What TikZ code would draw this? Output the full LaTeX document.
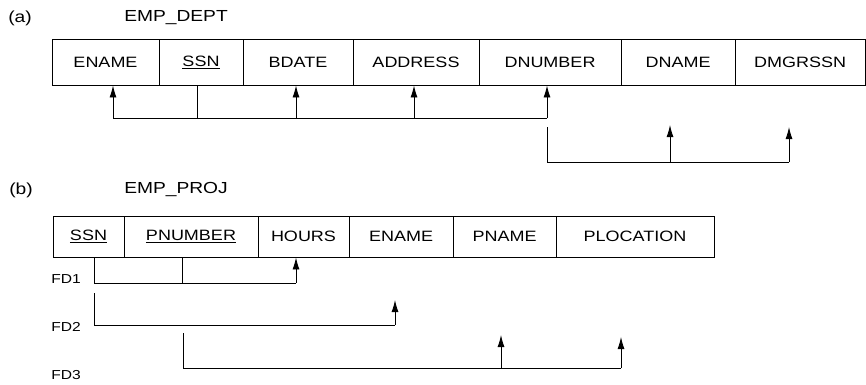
\documentclass[tikz,border=0pt]{standalone}
\usepackage{fontspec}
\setmainfont{Liberation Sans}[FakeStretch=1.2]
\usetikzlibrary{arrows.meta}
\begin{document}
\begin{tikzpicture}[x=1pt,y=-1pt,
  cell/.style={draw, line width=0.9pt, inner sep=0pt, font=\fontsize{15}{18}\selectfont},
  cella/.style={cell, minimum height=46pt},
  cellb/.style={cell, minimum height=41pt},
  fdline/.style={line width=0.9pt},
  fdarrow/.style={line width=0.9pt, -{Latex[length=12pt,width=7pt]}},
  title/.style={font=\fontsize{16}{19}\selectfont, inner sep=0pt},
  fdlabel/.style={font=\fontsize{13}{15}\selectfont, inner sep=0pt}]
\useasboundingbox (0,0) rectangle (866,384);

% (a) EMP_DEPT
\node[title] (la) at (20,18) {(a)};
\node[title] (ta) at (176,18) {EMP\_DEPT};
\node[cella, minimum width=107pt] (aename) at (105.5,62) {ENAME};
\node[cella, minimum width=84pt]  (assn)   at (201,62)   {\underline{SSN}};
\node[cella, minimum width=110pt] (abdate) at (298,62)   {BDATE};
\node[cella, minimum width=126pt] (aaddr)  at (416,62)   {ADDRESS};
\node[cella, minimum width=142pt] (adnum)  at (550,62)   {DNUMBER};
\node[cella, minimum width=114pt] (adname) at (678,62)   {DNAME};
\node[cella, minimum width=130pt] (amgr)   at (800,62)   {DMGRSSN};

\coordinate (a1) at (113,118);
\coordinate (a2) at (197,118);
\coordinate (a3) at (296,118);
\coordinate (a4) at (414,118);
\coordinate (a5) at (547,118);
\draw[fdline] (a1) -- (a5);
\draw[fdline] (a2) -- (a2 |- assn.south);
\draw[fdarrow] (a1) -- (a1 |- aename.south);
\draw[fdarrow] (a3) -- (a3 |- abdate.south);
\draw[fdarrow] (a4) -- (a4 |- aaddr.south);
\draw[fdarrow] (a5) -- (a5 |- adnum.south);

\coordinate (b0) at (547,127);
\coordinate (b1) at (547,162);
\coordinate (b2) at (670,162);
\coordinate (b3) at (789,162);
\coordinate (bt2) at (670,125);
\coordinate (bt3) at (789,127);
\draw[fdline] (b0) -- (b1) -- (b3);
\draw[fdarrow] (b2) -- (bt2);
\draw[fdarrow] (b3) -- (bt3);

% (b) EMP_PROJ
\node[title] (lb) at (21,190) {(b)};
\node[title] (tb) at (176,189) {EMP\_PROJ};
\node[cellb, minimum width=71pt]  (bssn)   at (88.5,236.5) {\underline{SSN}};
\node[cellb, minimum width=134pt] (bpnum)  at (191,236.5)  {\underline{PNUMBER}};
\node[cellb, minimum width=91pt]  (bhours) at (303.5,236.5) {HOURS};
\node[cellb, minimum width=104pt] (bename) at (401,236.5)  {ENAME};
\node[cellb, minimum width=103pt] (bpname) at (504.5,236.5) {PNAME};
\node[cellb, minimum width=158pt] (bploc)  at (635,236.5)  {PLOCATION};

\node[fdlabel] (fd1) at (66,279) {FD1};
\node[fdlabel] (fd2) at (66,327) {FD2};
\node[fdlabel] (fd3) at (66,375) {FD3};

% FD1
\coordinate (c0) at (94,283);
\coordinate (c2) at (182,283);
\coordinate (c3) at (296,283);
\draw[fdline] (c0 |- bssn.south) -- (c0) -- (c3);
\draw[fdline] (c2) -- (c2 |- bpnum.south);
\draw[fdarrow] (c3) -- (c3 |- bhours.south);

% FD2
\coordinate (d0) at (94,293);
\coordinate (d1) at (94,325);
\coordinate (d2) at (395,325);
\coordinate (dt) at (395,300);
\draw[fdline] (d0) -- (d1) -- (d2);
\draw[fdarrow] (d2) -- (dt);

% FD3
\coordinate (e0) at (183,333);
\coordinate (e1) at (183,368);
\coordinate (e2) at (501,368);
\coordinate (e3) at (621,368);
\coordinate (et2) at (501,335);
\coordinate (et3) at (621,337);
\draw[fdline] (e0) -- (e1) -- (e3);
\draw[fdarrow] (e2) -- (et2);
\draw[fdarrow] (e3) -- (et3);
\end{tikzpicture}
\end{document}
